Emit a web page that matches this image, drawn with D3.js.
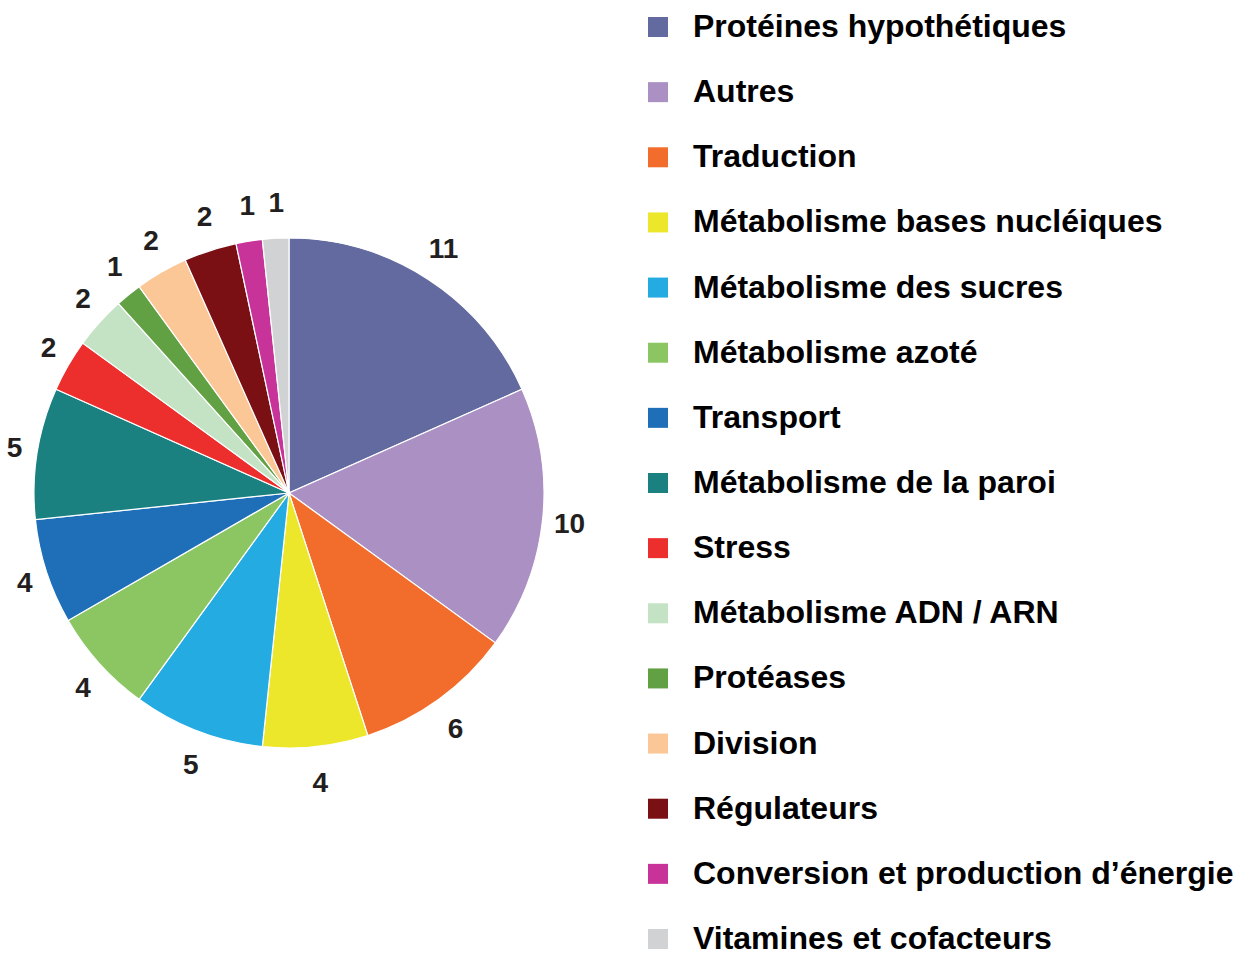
<!DOCTYPE html>
<html>
<head>
<meta charset="utf-8">
<script src="https://cdn.jsdelivr.net/npm/d3@7"></script>
<style>
  body { margin: 0; background: #fff; }
  text { font-family: "Liberation Sans", Arial, Helvetica, sans-serif; font-weight: bold; }
</style>
</head>
<body>
<div id="chart"></div>
<script>
// data
var categories = [
    "Protéines hypothétiques", "Autres", "Traduction", "Métabolisme bases nucléiques",
    "Métabolisme des sucres", "Métabolisme azoté", "Transport", "Métabolisme de la paroi",
    "Stress", "Métabolisme ADN / ARN", "Protéases", "Division", "Régulateurs",
    "Conversion et production d’énergie", "Vitamines et cofacteurs"
];
var counts = [11, 10, 6, 4, 5, 4, 4, 5, 2, 2, 1, 2, 2, 1, 1];
var colors = [
    "#636a9f", "#ab90c4", "#f26d2b", "#ece72a", "#23abe2", "#8bc663", "#1f6fb8",
    "#1a8080", "#ec2f2d", "#c4e2c4", "#62a044", "#fcc797", "#7b1014", "#c8339a", "#d1d2d4"
];

var svgWidth = 1255;
var svgHeight = 955;

var svg = d3.select("#chart")
    .append("svg")
    .attr("width", svgWidth)
    .attr("height", svgHeight);

// pie
var cx = 289, cy = 493, radius = 255;
var pieGroup = svg.append("g")
    .attr("transform", `translate(${cx}, ${cy})`);

var pie = d3.pie().sort(null).value(d => d);
var arc = d3.arc().innerRadius(0).outerRadius(radius);
var labelArc = d3.arc().innerRadius(280).outerRadius(280);

var slices = pie(counts);

pieGroup.selectAll("path")
    .data(slices)
    .enter()
    .append("path")
    .attr("d", arc)
    .attr("fill", (d, i) => colors[i])
    .attr("stroke", "#fff")
    .attr("stroke-width", 1.2);

// labels sit a bit further out above and below than at the sides
pieGroup.selectAll("text")
    .data(slices)
    .enter()
    .append("text")
    .attr("transform", d => {
        var c = labelArc.centroid(d);
        return `translate(${c[0] + 2}, ${c[1] * 1.04})`;
    })
    .attr("text-anchor", "middle")
    .attr("dominant-baseline", "central")
    .attr("font-size", "28px")
    .attr("fill", "#231f20")
    .text(d => d.data);

// legend
var y = d3.scalePoint()
    .domain(categories)
    .range([26, 938]);

var legend = svg.append("g");
var rows = legend.selectAll("g")
    .data(categories)
    .enter()
    .append("g")
    .attr("transform", d => `translate(0, ${y(d)})`);

rows.append("rect")
    .attr("x", 648)
    .attr("y", -9)
    .attr("width", 20)
    .attr("height", 20)
    .attr("fill", (d, i) => colors[i]);

rows.append("text")
    .attr("x", 693)
    .attr("dominant-baseline", "central")
    .attr("font-size", "32px")
    .attr("fill", "#000")
    .text(d => d);
</script>
</body>
</html>
